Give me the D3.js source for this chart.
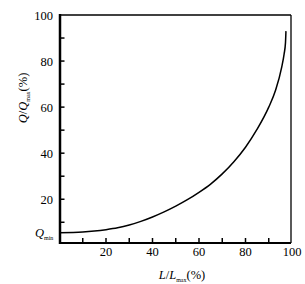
<!DOCTYPE html>
<html>
<head>
<meta charset="utf-8">
<script src="https://cdn.jsdelivr.net/npm/d3@7"></script>
<style>
  body { margin: 0; background: #fff; }
  text { font-family: "Liberation Serif", "Times New Roman", serif; fill: #000; }
</style>
</head>
<body>
<svg id="chart" width="305" height="284"></svg>
<script>
// L/Lmax (%) and Q/Qmax (%)
const lPct = [0, 10, 15, 20, 25, 30, 35, 40, 45, 50, 55, 60, 65, 70, 75, 80, 85, 90, 93, 95.6, 96.6, 97.2, 97.4];
const qPct = [5.5, 5.8, 6.2, 6.8, 7.6, 8.8, 10.4, 12.3, 14.5, 17.0, 19.8, 23.0, 26.6, 31.0, 36.3, 42.6, 50.4, 60.0, 67.5, 77.5, 83.0, 88.0, 93.0];
const xTicks = [20, 40, 60, 80, 100];
const yTicks = [20, 40, 60, 80, 100];
const minorTicks = [10, 20, 30, 40, 50, 60, 70, 80, 90];

const svg = d3.select("#chart");

const x = d3.scaleLinear().domain([0, 100]).range([59.5, 292]);
const y = d3.scaleLinear().domain([1, 100]).range([243, 15]);

// frame: thin top/right
svg.append("line").attr("x1", x(0)).attr("x2", 291).attr("y1", 15).attr("y2", 15)
  .attr("stroke", "#000").attr("stroke-width", 1.3);
svg.append("line").attr("x1", 291).attr("x2", 291).attr("y1", 15).attr("y2", 243)
  .attr("stroke", "#000").attr("stroke-width", 1.3);

// inward ticks
svg.selectAll(".xt").data(minorTicks).join("line").attr("class", "xt")
  .attr("x1", d => x(d)).attr("x2", d => x(d)).attr("y1", 243).attr("y2", 238)
  .attr("stroke", "#000").attr("stroke-width", 1.5);
svg.selectAll(".yt").data(minorTicks).join("line").attr("class", "yt")
  .attr("x1", x(0)).attr("x2", x(0) + 5).attr("y1", d => y(d)).attr("y2", d => y(d))
  .attr("stroke", "#000").attr("stroke-width", 1.5);

// thick axes
svg.append("line").attr("x1", x(0)).attr("x2", 291).attr("y1", 243).attr("y2", 243)
  .attr("stroke", "#000").attr("stroke-width", 2);
svg.append("line").attr("x1", x(0) + 0.5).attr("x2", x(0) + 0.5).attr("y1", 14).attr("y2", 244)
  .attr("stroke", "#000").attr("stroke-width", 2.5);

// tick labels
svg.selectAll(".xl").data(xTicks).join("text").attr("class", "xl")
  .attr("x", d => x(d)).attr("y", 256).attr("text-anchor", "middle")
  .style("font-size", "12.5px").text(d => d);
svg.selectAll(".yl").data(yTicks).join("text").attr("class", "yl")
  .attr("x", 53).attr("y", d => y(d) + 4.5).attr("text-anchor", "end")
  .style("font-size", "12.5px").text(d => d);

// Qmin label
const qmin = svg.append("text").attr("x", 35).attr("y", y(qPct[0]) + 4.5).style("font-size", "12.5px");
qmin.append("tspan").style("font-style", "italic").text("Q");
qmin.append("tspan").attr("dy", 3).style("font-size", "6px").text("min");

// axis titles
const xt = svg.append("text").attr("x", 182).attr("y", 279).attr("text-anchor", "middle").style("font-size", "12.5px");
xt.append("tspan").style("font-style", "italic").text("L");
xt.append("tspan").text("/");
xt.append("tspan").style("font-style", "italic").text("L");
xt.append("tspan").attr("dy", 3).style("font-size", "6px").text("max");
xt.append("tspan").attr("dy", -3).text("(%)");

const yt = svg.append("text").attr("transform", "translate(27,98) rotate(-90)")
  .attr("text-anchor", "middle").style("font-size", "12.5px");
yt.append("tspan").style("font-style", "italic").text("Q");
yt.append("tspan").text("/");
yt.append("tspan").style("font-style", "italic").text("Q");
yt.append("tspan").attr("dy", 3).style("font-size", "6px").text("max");
yt.append("tspan").attr("dy", -3).text("(%)");

// curve
const pts = lPct.map((d, i) => [d, qPct[i]]);
const line = d3.line().x(d => x(d[0])).y(d => y(d[1])).curve(d3.curveMonotoneX);
svg.append("path").datum(pts).attr("d", line)
  .attr("fill", "none").attr("stroke", "#000").attr("stroke-width", 1.5);
</script>
</body>
</html>
